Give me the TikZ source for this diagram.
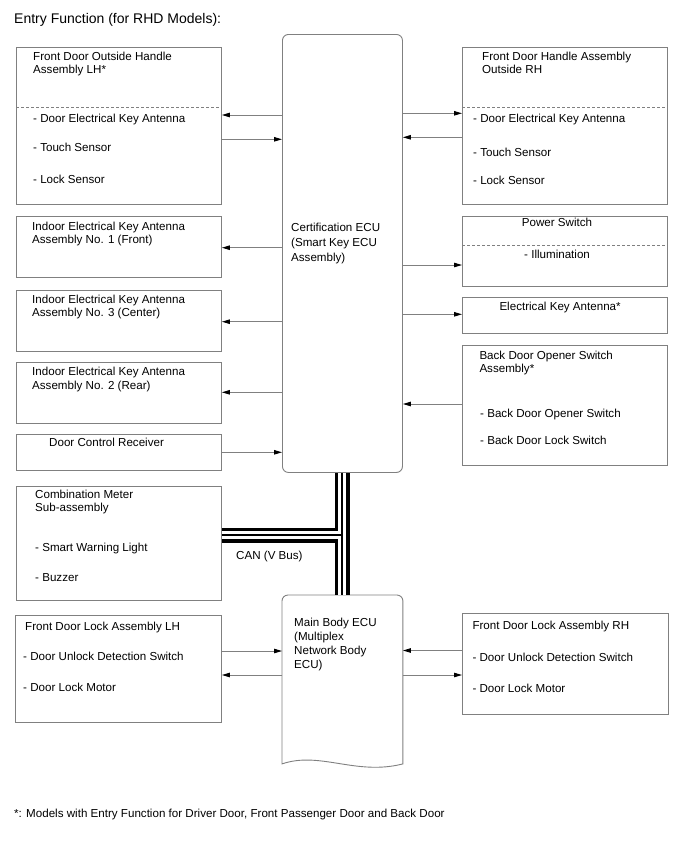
\documentclass[tikz,border=0pt]{standalone}
\usepackage{fontspec}
\setmainfont{Liberation Sans}
\usetikzlibrary{arrows.meta, positioning, calc}
\definecolor{framegray}{RGB}{128,128,128}
\tikzset{
  unit/.style={rectangle, draw=framegray, line width=0.9pt, anchor=north west, inner sep=0pt},
  ecu/.style={unit, rounded corners=6pt},
  txt/.style={anchor=base west, inner sep=0pt, align=left, font=\fontsize{11.6}{13.3}\selectfont},
  divider/.style={draw=framegray, line width=0.8pt, dash pattern=on 3pt off 2pt},
  sig/.style={draw=framegray, line width=0.9pt, -{Triangle[length=8pt,width=4.5pt,color=black]}},
  busouter/.style={draw=black, line width=15pt},
  busgap/.style={draw=white, line width=7.5pt},
  busmid/.style={draw=black, line width=1.1pt},
}

\begin{document}
\begin{tikzpicture}[x=1pt, y=-1pt]
\useasboundingbox[fill=white] (0,0) rectangle (688,852);
\node[txt, font=\fontsize{14}{16}\selectfont] (title) at (14,23) {Entry Function (for RHD Models):};

% central ECUs (multi-line texts sit on the baseline of their last line)
\node[ecu, minimum width=120pt, minimum height=438pt] (cert) at (282,34) {};
\node[txt, font=\fontsize{11.6}{15.3}\selectfont] (cert-t) at (291,261.6) {Certification ECU\\(Smart Key ECU\\Assembly)};
\node[unit, draw=none, minimum width=120pt, minimum height=168pt] (mbecu) at (282,595) {};
\draw[framegray, line width=0.9pt] (mbecu.south west) -- ([yshift=-6pt]mbecu.north west)
  arc[start angle=180, end angle=90, radius=6pt] -- ([xshift=-6pt]mbecu.north east)
  arc[start angle=90, end angle=0, radius=6pt] -- (mbecu.south east)
  .. controls ($(mbecu.south east)+(-47,12)$) and ($(mbecu.south west)+(38,-13)$) .. (mbecu.south west) -- cycle;
\node[txt, font=\fontsize{11.6}{14}\selectfont] (mbecu-t) at (294,668.7) {Main Body ECU\\(Multiplex\\Network Body\\ECU)};

% left column
\node[unit, minimum width=205pt, minimum height=157pt] (fdolh) at (16,47) {};
\node[txt] (fdolh-t) at (33,73.8) {Front Door Outside Handle\\Assembly LH*};
\draw[divider] (fdolh.west |- 0,107) -- (fdolh.east |- 0,107);
\node[txt] (fdolh-a) at (33,122.3) {- Door Electrical Key Antenna};
\node[txt] (fdolh-b) at (33,151.7) {- Touch Sensor};
\node[txt] (fdolh-c) at (33,183) {- Lock Sensor};

\node[unit, minimum width=205pt, minimum height=61pt] (iek1) at (16,216) {};
\node[txt] (iek1-t) at (32,243.3) {Indoor Electrical Key Antenna\\Assembly No. 1 (Front)};
\node[unit, minimum width=205pt, minimum height=61pt] (iek3) at (16,290) {};
\node[txt] (iek3-t) at (32,316.6) {Indoor Electrical Key Antenna\\Assembly No. 3 (Center)};
\node[unit, minimum width=205pt, minimum height=61pt] (iek2) at (16,362) {};
\node[txt] (iek2-t) at (32,389) {Indoor Electrical Key Antenna\\Assembly No. 2 (Rear)};
\node[unit, minimum width=205pt, minimum height=36pt] (dcr) at (16,434) {};
\node[txt] (dcr-t) at (49,446) {Door Control Receiver};

\node[unit, minimum width=205pt, minimum height=114pt] (cmb) at (16,486) {};
\node[txt] (cmb-t) at (35,511.6) {Combination Meter\\Sub-assembly};
\node[txt] (cmb-a) at (35,551.7) {- Smart Warning Light};
\node[txt] (cmb-b) at (35,581.7) {- Buzzer};

\node[unit, minimum width=206pt, minimum height=107pt] (fdllh) at (15,615) {};
\node[txt] (fdllh-t) at (25,630) {Front Door Lock Assembly LH};
\node[txt] (fdllh-a) at (23,660) {- Door Unlock Detection Switch};
\node[txt] (fdllh-b) at (23,691) {- Door Lock Motor};

% right column
\node[unit, minimum width=205pt, minimum height=157pt] (fdhrh) at (462,47) {};
\node[txt] (fdhrh-t) at (482,73.5) {Front Door Handle Assembly\\Outside RH};
\draw[divider] (fdhrh.west |- 0,107) -- (fdhrh.east |- 0,107);
\node[txt] (fdhrh-a) at (473,122.3) {- Door Electrical Key Antenna};
\node[txt] (fdhrh-b) at (473,156) {- Touch Sensor};
\node[txt] (fdhrh-c) at (473,184) {- Lock Sensor};

\node[unit, minimum width=205pt, minimum height=70pt] (psw) at (462,216) {};
\node[txt] (psw-t) at (521.7,226.7) {Power Switch};
\draw[divider] (psw.west |- 0,245) -- (psw.east |- 0,245);
\node[txt] (psw-a) at (524,258.3) {- Illumination};

\node[unit, minimum width=205pt, minimum height=36pt] (eka) at (462,297) {};
\node[txt] (eka-t) at (499.3,310.7) {Electrical Key Antenna*};

\node[unit, minimum width=205pt, minimum height=120pt] (bdo) at (462,345) {};
\node[txt] (bdo-t) at (479.3,372.3) {Back Door Opener Switch\\Assembly*};
\node[txt] (bdo-a) at (480,417.3) {- Back Door Opener Switch};
\node[txt] (bdo-b) at (480,444.3) {- Back Door Lock Switch};

\node[unit, minimum width=206pt, minimum height=101pt] (fdlrh) at (462,613) {};
\node[txt] (fdlrh-t) at (472.3,629.5) {Front Door Lock Assembly RH};
\node[txt] (fdlrh-a) at (472.3,661) {- Door Unlock Detection Switch};
\node[txt] (fdlrh-b) at (472.3,692.5) {- Door Lock Motor};

% signal lines
\draw[sig] (cert.west |- 0,115) -- (fdolh.east |- 0,115);
\draw[sig] (fdolh.east |- 0,139.3) -- (cert.west |- 0,139.3);
\draw[sig] (cert.west |- 0,247.7) -- (iek1.east |- 0,247.7);
\draw[sig] (cert.west |- 0,321.7) -- (iek3.east |- 0,321.7);
\draw[sig] (cert.west |- 0,392.3) -- (iek2.east |- 0,392.3);
\draw[sig] (dcr.east |- 0,452.3) -- (cert.west |- 0,452.3);
\draw[sig] (cert.east |- 0,113.3) -- (fdhrh.west |- 0,113.3);
\draw[sig] (fdhrh.west |- 0,137.3) -- (cert.east |- 0,137.3);
\draw[sig] (cert.east |- 0,265) -- (psw.west |- 0,265);
\draw[sig] (cert.east |- 0,314.3) -- (eka.west |- 0,314.3);
\draw[sig] (bdo.west |- 0,404) -- (cert.east |- 0,404);
\draw[sig] (fdllh.east |- 0,651) -- (mbecu.west |- 0,651);
\draw[sig] (mbecu.west |- 0,675) -- (fdllh.east |- 0,675);
\draw[sig] (fdlrh.west |- 0,650.5) -- (mbecu.east |- 0,650.5);
\draw[sig] (mbecu.east |- 0,675) -- (fdlrh.west |- 0,675);

% CAN bus
\coordinate (canjoint) at (342,535);
\foreach \layer in {busouter, busgap, busmid} {
  \draw[\layer] (cert.south -| canjoint) -- (mbecu.north -| canjoint);
  \draw[\layer] (cmb.east |- canjoint) -- (canjoint);
}
\node[txt] (can-t) at (236,559) {CAN (V Bus)};

\node[txt] (note) at (14,817) {*: Models with Entry Function for Driver Door, Front Passenger Door and Back Door};
\end{tikzpicture}
\end{document}
